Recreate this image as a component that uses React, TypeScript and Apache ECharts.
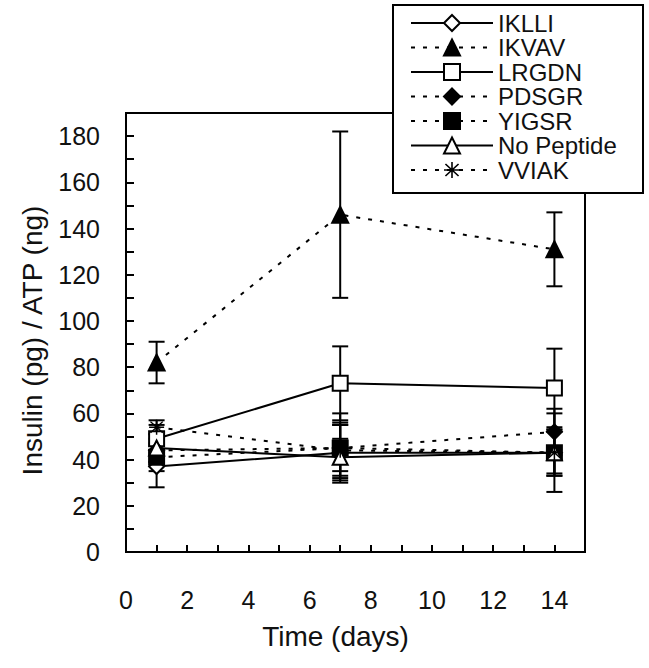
import React, { useEffect, useRef } from "react";
import * as echarts from "echarts";

const days = [1, 7, 14];
const seriesNames = ["IKLLI", "IKVAV", "LRGDN", "PDSGR", "YIGSR", "No Peptide", "VVIAK"];
const iklli = [37, 43, 43];
const ikvav = [82, 146, 131];
const lrgdn = [49, 73, 71];
const pdsgr = [44, 45, 52];
const yigsr = [41, 45, 43];
const noPeptide = [45, 41, 43];
const vviak = [54, 44, 43];
const iklliErr = [9, 12, 10];
const ikvavErr = [9, 36, 16];
const lrgdnErr = [6, 16, 17];
const pdsgrErr = [5, 10, 10];
const yigsrErr = [6, 15, 17];
const noPeptideErr = [6, 8, 10];
const vviakErr = [3, 12, 9];
const xTicks = [0, 2, 4, 6, 8, 10, 12, 14];
const yTicks = [0, 20, 40, 60, 80, 100, 120, 140, 160, 180];

const FONT = "Liberation Sans";
const STAR =
  "path://M9,0 L11,0 L11,8.6 L17.5,2.1 L18.9,3.5 L12.4,10 L20,10 L20,12 L12.4,12 L18.9,18.5 L17.5,19.9 L11,13.4 L11,22 L9,22 L9,13.4 L2.5,19.9 L1.1,18.5 L7.6,12 L0,12 L0,10 L7.6,10 L1.1,3.5 L2.5,2.1 L9,8.6 Z";

export default function App() {
  const ref = useRef<HTMLDivElement>(null);
  useEffect(() => {
    const chart = echarts.init(ref.current!, null, { renderer: "svg" });
    const values = [iklli, ikvav, lrgdn, pdsgr, yigsr, noPeptide, vviak];
    const errs = [iklliErr, ikvavErr, lrgdnErr, pdsgrErr, yigsrErr, noPeptideErr, vviakErr];
    const styles: any[] = [
      { symbol: "diamond", size: 15, fill: "#fff", dashed: false },
      { symbol: "triangle", size: 16, fill: "#000", dashed: true },
      { symbol: "rect", size: 15, fill: "#fff", dashed: false },
      { symbol: "diamond", size: 15, fill: "#000", dashed: true },
      { symbol: "rect", size: 15, fill: "#000", dashed: true },
      { symbol: "triangle", size: 15, fill: "#fff", dashed: false },
      { symbol: STAR, size: 15, fill: "#000", dashed: true },
    ];
    const errData: number[][] = [];
    values.forEach((vals, i) => {
      vals.forEach((v, j) => {
        errData.push([days[j], v - errs[i][j], v + errs[i][j]]);
      });
    });
    const lineSeries = seriesNames.map((name, i) => ({
      name,
      type: "line",
      data: days.map((d, j) => [d, values[i][j]]),
      symbol: styles[i].symbol,
      symbolSize: styles[i].size,
      showSymbol: true,
      z: 5,
      lineStyle: {
        color: "#000",
        width: 2,
        type: styles[i].dashed ? [4, 8] : "solid",
      },
      itemStyle: {
        color: styles[i].fill,
        borderColor: "#000",
        borderWidth: styles[i].symbol === STAR ? 0 : 2,
      },
    }));
    const option: any = {
      animation: false,
      textStyle: { fontFamily: FONT },
      grid: {
        left: 126,
        right: 64,
        top: 113,
        bottom: 116,
        show: true,
        borderColor: "#000",
        borderWidth: 2,
      },
      graphic: [
        {
          type: "rect",
          z: 50,
          shape: { x: 393, y: 5, width: 250, height: 188 },
          style: { fill: "#fff", stroke: "#000", lineWidth: 2 },
        },
      ],
      legend: {
        z: 60,
        left: 402,
        top: 9,
        orient: "vertical",
        itemWidth: 82,
        itemHeight: 20,
        itemGap: 0.5,
        padding: [2, 4, 2, 8],
        textStyle: { fontSize: 24, fontFamily: FONT, color: "#111", lineHeight: 22 },
        data: seriesNames,
      },
      xAxis: {
        type: "value",
        min: 0,
        max: 15,
        interval: 1,
        axisLine: { lineStyle: { color: "#000", width: 2 } },
        axisTick: { inside: true, length: 7, lineStyle: { color: "#000", width: 2 } },
        splitLine: { show: false },
        axisLabel: {
          margin: 35,
          fontSize: 25,
          fontFamily: FONT,
          color: "#111",
          formatter: (v: number) => (xTicks.indexOf(v) >= 0 ? String(v) : ""),
        },
        name: "Time (days)",
        nameLocation: "middle",
        nameGap: 70,
        nameTextStyle: { fontSize: 28, fontFamily: FONT, color: "#111", padding: [0, 40, 0, 0] },
      },
      yAxis: {
        type: "value",
        min: 0,
        max: 190,
        interval: 10,
        axisLine: { lineStyle: { color: "#000", width: 2 } },
        axisTick: { inside: true, length: 8, lineStyle: { color: "#000", width: 2 } },
        splitLine: { show: false },
        axisLabel: {
          margin: 26,
          fontSize: 25,
          fontFamily: FONT,
          color: "#111",
          formatter: (v: number) => (yTicks.indexOf(v) >= 0 ? String(v) : ""),
        },
        name: "Insulin (pg) / ATP (ng)",
        nameLocation: "middle",
        nameGap: 80,
        nameTextStyle: { fontSize: 28, fontFamily: FONT, color: "#111", padding: [0, 16, 0, 0] },
      },
      series: [
        {
          type: "custom",
          z: 3,
          data: errData,
          renderItem: (params: any, api: any) => {
            const x = api.value(0);
            const lo = api.coord([x, api.value(1)]);
            const hi = api.coord([x, api.value(2)]);
            const hw = 8;
            const st = { stroke: "#000", lineWidth: 2 };
            return {
              type: "group",
              children: [
                { type: "line", shape: { x1: lo[0], y1: lo[1], x2: hi[0], y2: hi[1] }, style: st },
                { type: "line", shape: { x1: lo[0] - hw, y1: lo[1], x2: lo[0] + hw, y2: lo[1] }, style: st },
                { type: "line", shape: { x1: hi[0] - hw, y1: hi[1], x2: hi[0] + hw, y2: hi[1] }, style: st },
              ],
            };
          },
        },
        ...lineSeries,
      ],
    };
    chart.setOption(option);
    return () => chart.dispose();
  }, []);
  return <div ref={ref} style={{ width: 649, height: 668, position: "absolute", left: 0, top: 0 }} />;
}
